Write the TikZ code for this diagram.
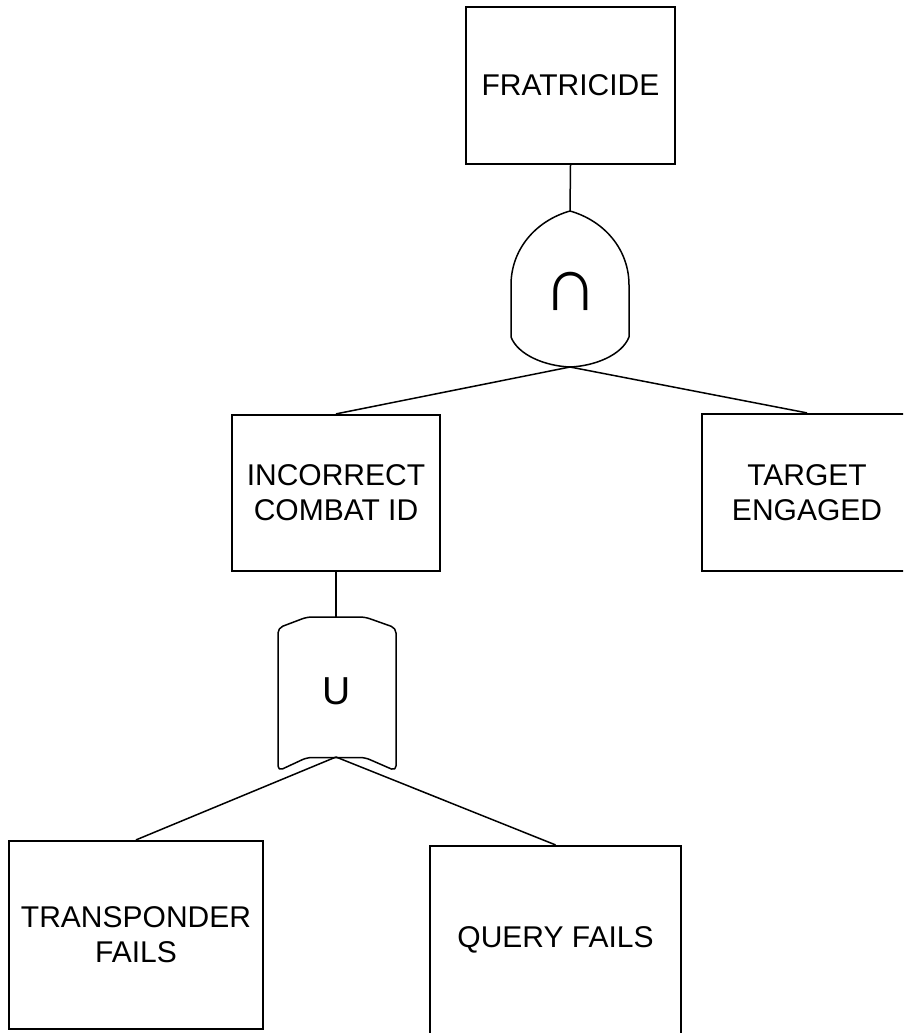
\documentclass[tikz,border=0pt]{standalone}
\usepackage{fontspec}
\setmainfont{Liberation Sans}
\begin{document}
\begin{tikzpicture}[x=1pt,y=-1pt,
  event/.style={draw=black, line width=2.2pt, inner sep=0pt, align=center,
    font=\fontsize{30pt}{35pt}\selectfont},
  gate/.style={draw=black, line width=1.5pt, line join=round},
  link/.style={draw=black, line width=1.5pt},
  gatesym/.style={inner sep=0pt, text depth=0pt}]
\useasboundingbox (0,0) rectangle (903,1033);
\clip (0,0) rectangle (903,1033);

% events
\node[event, minimum width=209pt, minimum height=157pt] (frat) at (570.5,85.5) {FRATRICIDE};
\node[event, minimum width=208pt, minimum height=156pt] (ccid) at (336,493) {INCORRECT\\COMBAT ID};
\node[event, minimum width=210pt, minimum height=157pt] (tgt) at (807,492.5) {TARGET\\ENGAGED};
\node[event, minimum width=254pt, minimum height=188pt] (xpdr) at (136,935) {TRANSPONDER\\FAILS};
\node[event, minimum width=251pt, minimum height=188pt] (qry) at (555.5,940) {QUERY FAILS};

% AND gate
\coordinate (andtop) at (570,211);
\coordinate (andbot) at (570,367);
\draw[gate] (andtop) .. controls (605,221) and (629,250) .. (629,285) -- (629,337)
  .. controls (622,355) and (595,366) .. (andbot)
  .. controls (545,366) and (518,355) .. (511,337) -- (511,285)
  .. controls (511,250) and (535,221) .. (andtop) -- cycle;
\node[gatesym, font=\fontsize{76pt}{76pt}\selectfont] (andsym) at (571,291) {∩};

% OR gate
\coordinate (ortop) at (336,617);
\coordinate (orbot) at (336,757);
\draw[gate, rounded corners=5pt] (278,628) -- (307,617) -- (365,617) -- (396,628)
  -- (396,771) -- (365,757.5) -- (307,757.5) -- (278,771) -- cycle;
\node[gatesym, font=\fontsize{39pt}{39pt}\selectfont] (orsym) at (336.5,691) {U};

% connectors
\draw[link] (frat.south) -- (andtop);
\draw[link] (andbot) -- (ccid.north);
\draw[link] (andbot) -- (tgt.north);
\draw[link] (ccid.south) -- (ortop);
\draw[link] (orbot) -- (xpdr.north);
\draw[link] (orbot) -- (qry.north);
\end{tikzpicture}
\end{document}
